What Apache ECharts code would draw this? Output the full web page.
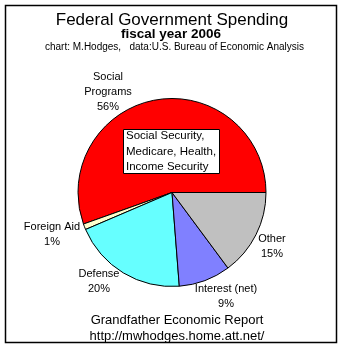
<!DOCTYPE html>
<html>
<head>
<meta charset="utf-8">
<script src="https://cdn.jsdelivr.net/npm/echarts@6/dist/echarts.min.js"></script>
<style>
  html, body { margin: 0; padding: 0; background: #fff; }
  #chart { width: 344px; height: 349px; }
</style>
</head>
<body>
<div id="chart"></div>
<script>
// Spending categories, FY2006 (percent of federal outlays)
const categories = ['Social\nPrograms', 'Foreign Aid', 'Defense', 'Interest (net)', 'Other'];
const shares = [56, 1, 20, 9, 15];
const sliceColors = ['#ff0000', '#ffffcc', '#66ffff', '#8080ff', '#c0c0c0'];

// Where each slice's caption sits (block centre, px)
const labelSpots = [[108, 92], [52, 234.5], [99, 281.5], [226, 296.5], [272, 246.5]];

const FONT = '"Liberation Sans", Arial, sans-serif';

const chart = echarts.init(document.getElementById('chart'), null, { renderer: 'canvas' });

chart.setOption({
  animation: false,
  backgroundColor: '#ffffff',
  graphic: [
    { type: 'rect', shape: { x: 5.5, y: 5.5, width: 331, height: 337 },
      style: { fill: 'none', stroke: '#000', lineWidth: 1.5 }, z: 10 },
    { type: 'text', x: 172, y: 20,
      style: { text: 'Federal Government Spending', font: '17px ' + FONT, fill: '#000',
               textAlign: 'center', textVerticalAlign: 'middle' } },
    { type: 'text', x: 171, y: 34.5,
      style: { text: 'fiscal year 2006', font: 'bold 13.5px ' + FONT, fill: '#000',
               textAlign: 'center', textVerticalAlign: 'middle' } },
    { type: 'text', x: 174.5, y: 47.5,
      style: { text: 'chart: M.Hodges,   data:U.S. Bureau of Economic Analysis', font: '10px ' + FONT,
               fill: '#000', textAlign: 'center', textVerticalAlign: 'middle' } },
    { type: 'rect', shape: { x: 123.5, y: 129.5, width: 96, height: 44 },
      style: { fill: '#fff', stroke: '#000', lineWidth: 1 }, z: 20 },
    { type: 'text', x: 126, y: 151.5, z: 21,
      style: { text: 'Social Security,\nMedicare, Health,\nIncome Security', font: '11.5px ' + FONT,
               lineHeight: 15.5, fill: '#000', textAlign: 'left', textVerticalAlign: 'middle' } },
    { type: 'text', x: 177, y: 320,
      style: { text: 'Grandfather Economic Report', font: '13px ' + FONT, fill: '#000',
               textAlign: 'center', textVerticalAlign: 'middle' } },
    { type: 'text', x: 177, y: 336,
      style: { text: 'http://mwhodges.home.att.net/', font: '13px ' + FONT, fill: '#000',
               textAlign: 'center', textVerticalAlign: 'middle' } }
  ],
  series: [{
    type: 'pie',
    center: [172, 192.5],
    radius: 94,
    startAngle: 0,
    clockwise: false,
    avoidLabelOverlap: false,
    itemStyle: { borderColor: '#000', borderWidth: 1 },
    label: {
      show: true,
      position: 'outside',
      formatter: '{b}\n{c}%',
      fontFamily: FONT,
      fontSize: 11,
      lineHeight: 15,
      color: '#000',
      align: 'center'
    },
    labelLine: { show: false },
    labelLayout: function (p) {
      const s = labelSpots[p.dataIndex];
      return { x: s[0], y: s[1], align: 'center', verticalAlign: 'middle', hideOverlap: false };
    },
    emphasis: { disabled: true },
    data: categories.map((name, i) => ({
      name: name,
      value: shares[i],
      itemStyle: { color: sliceColors[i] }
    }))
  }]
});
</script>
</body>
</html>
